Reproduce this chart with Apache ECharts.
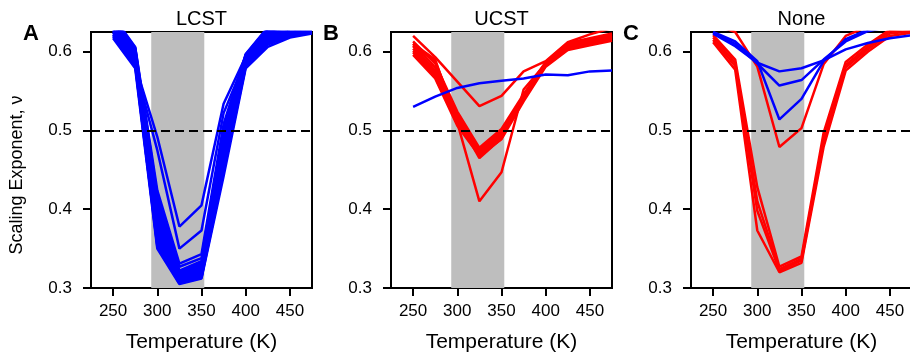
<!DOCTYPE html>
<html>
<head>
<meta charset="utf-8">
<script src="https://cdn.jsdelivr.net/npm/echarts@6/dist/echarts.min.js"></script>
<style>
  html, body { margin: 0; padding: 0; background: #fff; }
  #chart { width: 910px; height: 355px; }
</style>
</head>
<body>
<div id="chart"></div>
<script>
// Temperatures (K) at which the scaling exponent was evaluated
const temps = [250, 275, 300, 325, 350, 375, 400, 425, 450, 475];

// Tick positions
const xTicks = [250, 300, 350, 400, 450];
const yTicks = [0.3, 0.4, 0.5, 0.6];

// Shaded temperature window (20 °C to 80 °C)
const windowK = [293.15, 353.15];
const thetaNu = 0.5;

const panelTitles = ['LCST', 'UCST', 'None'];
const panelLetters = ['A', 'B', 'C'];

// LCST sequences (all blue)
const lcstBlue = [
  [0.617, 0.579, 0.350, 0.305, 0.312, 0.442, 0.579, 0.606, 0.618, 0.623],
  [0.619, 0.582, 0.355, 0.306, 0.313, 0.448, 0.581, 0.609, 0.620, 0.625],
  [0.621, 0.584, 0.353, 0.307, 0.315, 0.451, 0.582, 0.611, 0.622, 0.626],
  [0.622, 0.586, 0.361, 0.308, 0.314, 0.455, 0.583, 0.613, 0.624, 0.628],
  [0.624, 0.587, 0.358, 0.309, 0.317, 0.458, 0.584, 0.614, 0.625, 0.629],
  [0.625, 0.589, 0.366, 0.310, 0.318, 0.461, 0.585, 0.616, 0.627, 0.631],
  [0.627, 0.590, 0.371, 0.311, 0.320, 0.465, 0.586, 0.617, 0.628, 0.632],
  [0.628, 0.592, 0.368, 0.312, 0.319, 0.468, 0.587, 0.619, 0.629, 0.633],
  [0.630, 0.593, 0.376, 0.313, 0.322, 0.471, 0.588, 0.620, 0.631, 0.635],
  [0.631, 0.595, 0.381, 0.314, 0.324, 0.474, 0.589, 0.622, 0.632, 0.636],
  [0.633, 0.596, 0.378, 0.315, 0.323, 0.477, 0.590, 0.623, 0.633, 0.637],
  [0.634, 0.598, 0.386, 0.316, 0.326, 0.480, 0.591, 0.624, 0.634, 0.638],
  [0.636, 0.599, 0.391, 0.317, 0.327, 0.483, 0.592, 0.625, 0.635, 0.639],
  [0.637, 0.601, 0.396, 0.318, 0.329, 0.486, 0.593, 0.626, 0.636, 0.640],
  [0.639, 0.602, 0.401, 0.319, 0.330, 0.489, 0.594, 0.627, 0.637, 0.641],
  [0.640, 0.603, 0.407, 0.321, 0.332, 0.493, 0.595, 0.628, 0.638, 0.642],
  [0.642, 0.604, 0.413, 0.322, 0.334, 0.497, 0.596, 0.629, 0.639, 0.643],
  [0.643, 0.605, 0.418, 0.327, 0.338, 0.502, 0.596, 0.630, 0.640, 0.644],
  [0.645, 0.606, 0.424, 0.331, 0.343, 0.508, 0.597, 0.631, 0.641, 0.645],
  [0.640, 0.580, 0.475, 0.350, 0.373, 0.522, 0.590, 0.625, 0.636, 0.640],
  [0.645, 0.583, 0.492, 0.378, 0.405, 0.534, 0.594, 0.628, 0.638, 0.642]
];
const lcstRed = [];

// UCST sequences
const ucstRed = [
  [0.613, 0.585, 0.524, 0.478, 0.502, 0.546, 0.587, 0.611, 0.617, 0.623],
  [0.610, 0.580, 0.520, 0.476, 0.499, 0.544, 0.586, 0.609, 0.616, 0.621],
  [0.607, 0.576, 0.517, 0.474, 0.497, 0.543, 0.585, 0.607, 0.614, 0.620],
  [0.604, 0.573, 0.514, 0.472, 0.495, 0.541, 0.584, 0.605, 0.612, 0.618],
  [0.601, 0.570, 0.511, 0.470, 0.493, 0.540, 0.583, 0.604, 0.611, 0.617],
  [0.599, 0.568, 0.509, 0.469, 0.491, 0.539, 0.582, 0.603, 0.610, 0.616],
  [0.596, 0.566, 0.506, 0.468, 0.489, 0.537, 0.581, 0.602, 0.608, 0.614],
  [0.620, 0.593, 0.562, 0.531, 0.544, 0.575, 0.588, 0.612, 0.622, 0.630],
  [0.608, 0.588, 0.515, 0.465, 0.490, 0.542, 0.583, 0.606, 0.613, 0.619],
  [0.610, 0.590, 0.510, 0.410, 0.447, 0.552, 0.585, 0.608, 0.615, 0.621]
];
const ucstBlue = [
  [0.530, 0.543, 0.554, 0.560, 0.563, 0.566, 0.571, 0.570, 0.575, 0.576]
];

// Sequences with no transition
const noneRed = [
  [0.612, 0.577, 0.373, 0.320, 0.332, 0.479, 0.576, 0.600, 0.620, 0.624],
  [0.615, 0.582, 0.398, 0.322, 0.335, 0.485, 0.580, 0.603, 0.623, 0.626],
  [0.618, 0.586, 0.410, 0.324, 0.337, 0.490, 0.583, 0.606, 0.626, 0.628],
  [0.621, 0.590, 0.428, 0.327, 0.340, 0.497, 0.587, 0.609, 0.628, 0.630],
  [0.635, 0.625, 0.581, 0.479, 0.503, 0.584, 0.620, 0.632, 0.640, 0.642]
];
const noneBlue = [
  [0.623, 0.607, 0.586, 0.575, 0.579, 0.589, 0.603, 0.611, 0.617, 0.621],
  [0.624, 0.610, 0.585, 0.557, 0.564, 0.590, 0.613, 0.626, 0.632, 0.635],
  [0.625, 0.613, 0.588, 0.514, 0.540, 0.588, 0.616, 0.628, 0.635, 0.638]
];

const panelRed = [lcstRed, ucstRed, noneRed];
const panelBlue = [lcstBlue, ucstBlue, noneBlue];

const FONT = '"Liberation Sans", Arial, Helvetica, sans-serif';
const RED = '#ff0000';
const BLUE = '#0000ff';
const gridLefts = [91, 391, 691];
const gridWidth = 221;
const gridTop = 32;
const gridHeight = 256;

const grids = [], xAxes = [], yAxes = [], series = [], graphics = [];

function lineSeries(values, color, i) {
  return {
    type: 'line',
    xAxisIndex: i,
    yAxisIndex: i,
    data: temps.map((t, k) => [t, values[k]]),
    showSymbol: false,
    symbol: 'none',
    clip: true,
    z: 3,
    lineStyle: { color: color, width: 2.5 },
    silent: true
  };
}

for (let i = 0; i < 3; i++) {
  grids.push({
    left: gridLefts[i], top: gridTop, width: gridWidth, height: gridHeight,
    containLabel: false, outerBoundsMode: 'none',
    show: true, borderColor: '#000', borderWidth: 2, backgroundColor: 'transparent'
  });
  xAxes.push({
    type: 'value', gridIndex: i, min: 225, max: 475,
    axisLine: { show: true, lineStyle: { color: '#000', width: 2 } },
    axisTick: { show: true, customValues: xTicks, length: 8, lineStyle: { color: '#000', width: 2 } },
    axisLabel: { customValues: xTicks, margin: 15, fontSize: 17, color: '#000', fontFamily: FONT },
    splitLine: { show: false },
    name: 'Temperature (K)', nameLocation: 'middle', nameGap: 44,
    nameTextStyle: { fontSize: 21, color: '#000', fontFamily: FONT }
  });
  yAxes.push({
    type: 'value', gridIndex: i, min: 0.3, max: 0.625,
    axisLine: { show: true, onZero: false, lineStyle: { color: '#000', width: 2 } },
    axisTick: { show: true, customValues: yTicks, length: 8, lineStyle: { color: '#000', width: 2 } },
    axisLabel: { customValues: yTicks, margin: 19, fontSize: 17, color: '#000', fontFamily: FONT,
                 formatter: v => v.toFixed(1) },
    splitLine: { show: false }
  });

  // grey temperature window
  series.push({
    type: 'line', xAxisIndex: i, yAxisIndex: i, data: [], z: 1, silent: true,
    markArea: {
      silent: true,
      itemStyle: { color: '#bebebe', opacity: 1 },
      data: [[{ xAxis: windowK[0] }, { xAxis: windowK[1] }]]
    }
  });
  panelRed[i].forEach(v => series.push(lineSeries(v, RED, i)));
  panelBlue[i].forEach(v => series.push(lineSeries(v, BLUE, i)));
  // theta-solvent reference line
  series.push({
    type: 'line', xAxisIndex: i, yAxisIndex: i, data: [], z: 5, silent: true,
    markLine: {
      silent: true, symbol: ['none', 'none'], label: { show: false },
      lineStyle: { color: '#000', width: 2.2, type: [9, 5] },
      data: [{ yAxis: thetaNu }]
    }
  });

  const cx = gridLefts[i] + gridWidth / 2;
  graphics.push({
    type: 'text', x: cx, y: 19,
    style: { text: panelTitles[i], font: '20px ' + FONT, fill: '#000',
             align: 'center', verticalAlign: 'middle', textAlign: 'center', textVerticalAlign: 'middle' }
  });
  graphics.push({
    type: 'text', x: gridLefts[i] - 60, y: 34,
    style: { text: panelLetters[i], font: 'bold 22px ' + FONT, fill: '#000',
             align: 'center', verticalAlign: 'middle', textAlign: 'center', textVerticalAlign: 'middle' }
  });
}

graphics.push({
  type: 'text', x: 17, y: 175, rotation: Math.PI / 2,
  style: { text: 'Scaling Exponent, ν', font: '18px ' + FONT, fill: '#000',
           align: 'center', verticalAlign: 'middle', textAlign: 'center', textVerticalAlign: 'middle' }
});

const chart = echarts.init(document.getElementById('chart'), null, { renderer: 'canvas' });
chart.setOption({
  animation: false,
  backgroundColor: '#fff',
  grid: grids,
  xAxis: xAxes,
  yAxis: yAxes,
  series: series,
  graphic: graphics
});
</script>
</body>
</html>
